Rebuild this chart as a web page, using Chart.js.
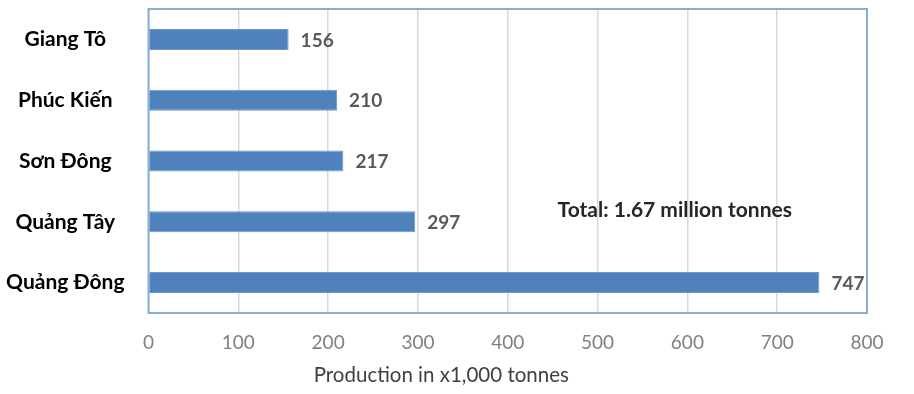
<!DOCTYPE html>
<html>
<head>
<meta charset="utf-8">
<script src="https://cdn.jsdelivr.net/npm/chart.js@4/dist/chart.umd.min.js"></script>
<style>
  html, body { margin: 0; padding: 0; background: #fff; }
  #wrap { width: 914px; height: 394px; }
</style>
</head>
<body>
<div id="wrap"><canvas id="myChart"></canvas></div>
<script>
// datos del grafico
const provinces = ['Giang Tô', 'Phúc Kiến', 'Sơn Đông', 'Quảng Tây', 'Quảng Đông'];
const production = [156, 210, 217, 297, 747];
const xTicks = [0, 100, 200, 300, 400, 500, 600, 700, 800];
const axisTitle = 'Production in x1,000 tonnes';
const totalNote = 'Total: 1.67 million tonnes';

const FONT = 'Lato, "Open Sans", sans-serif';

// marco azul alrededor del area + etiquetas de valor + nota del total + titulo del eje
const extras = {
  id: 'extras',
  afterDatasetsDraw(chart) {
    const ctx = chart.ctx;
    const a = chart.chartArea;
    const xs = chart.scales.x, ys = chart.scales.y;
    ctx.save();
    ctx.strokeStyle = '#86afd8';
    ctx.lineWidth = 2;
    ctx.strokeRect(a.left, a.top, a.right - a.left, a.bottom - a.top);

    const meta = chart.getDatasetMeta(0);
    ctx.font = 'bold 19px ' + FONT;
    ctx.fillStyle = '#595959';
    ctx.textAlign = 'left';
    ctx.textBaseline = 'middle';
    meta.data.forEach((bar, i) => {
      ctx.fillText(production[i], bar.x + 12, bar.y + 1);
    });

    // nota del total
    ctx.font = 'bold 21px ' + FONT;
    ctx.fillStyle = '#262626';
    ctx.textAlign = 'center';
    ctx.fillText(totalNote, xs.getPixelForValue(586), ys.getPixelForValue(3) - 12);

    // titulo del eje x (no esta centrado en el original)
    ctx.font = '20.5px ' + FONT;
    ctx.fillStyle = '#404040';
    ctx.fillText(axisTitle, xs.getPixelForValue(326), xs.bottom - 12);
    ctx.restore();
  }
};

new Chart(document.getElementById('myChart').getContext('2d'), {
  type: 'bar',
  data: {
    labels: provinces,
    datasets: [{
      data: production,
      backgroundColor: '#4f81bd',
      borderColor: '#6f97c8',
      borderWidth: 1,
      barPercentage: 0.69,
      categoryPercentage: 0.5
    }]
  },
  options: {
    indexAxis: 'y',
    responsive: true,
    maintainAspectRatio: false,
    animation: false,
    layout: { padding: { top: 9, right: 47, bottom: 6.7, left: 0 } },
    plugins: {
      legend: { display: false },
      tooltip: { enabled: false }
    },
    scales: {
      x: {
        min: 0,
        max: 800,
        afterBuildTicks: scale => { scale.ticks = xTicks.map(v => ({ value: v })); },
        afterFit: scale => { scale.height = 74.3; },
        grid: { color: '#d9d9d9', lineWidth: 1.5, drawTicks: false },
        border: { display: false },
        ticks: {
          color: '#808080',
          font: { family: FONT, size: 19 },
          padding: 18.6
        }
      },
      y: {
        grid: { display: false, drawTicks: false },
        border: { display: false },
        afterFit: scale => {
          scale.width = 148.5;
          scale.paddingTop = 0;
          scale.paddingBottom = 0;
        },
        ticks: {
          color: '#000',
          crossAlign: 'center',
          font: { family: FONT, size: 21, weight: 'bold' },
          padding: 24
        }
      }
    }
  },
  plugins: [extras]
});
</script>
</body>
</html>
